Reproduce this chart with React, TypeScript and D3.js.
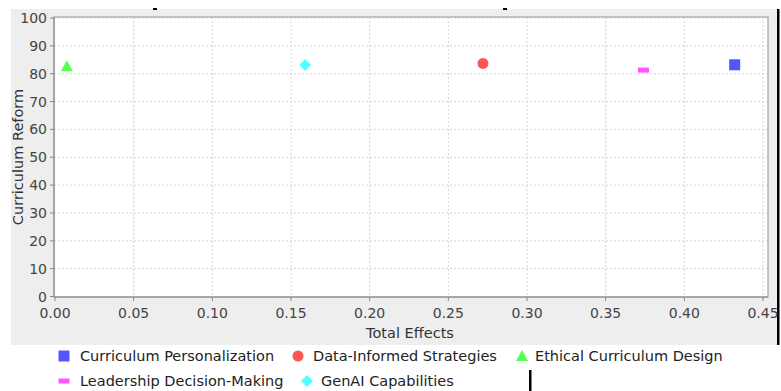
import React from "react";
import * as d3 from "d3";

const seriesNames = [
  "Curriculum Personalization",
  "Data-Informed Strategies",
  "Ethical Curriculum Design",
  "Leadership Decision-Making",
  "GenAI Capabilities",
];
const totalEffects = [0.432, 0.272, 0.0075, 0.374, 0.159];
const curriculumReform = [83.2, 83.7, 82.7, 81.3, 83.1];
const colors = ["#5555ff", "#ff5555", "#55ff55", "#ff55ff", "#55ffff"];
const shapes = ["square", "circle", "triangle", "hrect", "diamond"];
const xTicks = [0, 0.05, 0.1, 0.15, 0.2, 0.25, 0.3, 0.35, 0.4, 0.45];
const yTicks = [0, 10, 20, 30, 40, 50, 60, 70, 80, 90, 100];

const FONT = "'DejaVu Sans', sans-serif";

function Marker({ shape, cx, cy, color }: { shape: string; cx: number; cy: number; color: string }) {
  if (shape === "square") return <rect x={cx - 5.5} y={cy - 5.5} width={11} height={11} fill={color} />;
  if (shape === "circle") return <circle cx={cx} cy={cy} r={5.5} fill={color} />;
  if (shape === "triangle")
    return <path d={`M${cx},${cy - 6}L${cx + 6},${cy + 5}L${cx - 6},${cy + 5}Z`} fill={color} />;
  if (shape === "hrect") return <rect x={cx - 5.5} y={cy - 2.5} width={11} height={5} fill={color} />;
  return <path d={`M${cx},${cy - 6}L${cx + 6},${cy}L${cx},${cy + 6}L${cx - 6},${cy}Z`} fill={color} />;
}

export default function App() {
  const x = d3.scaleLinear().domain([0, 0.45]).range([55, 763]);
  const y = d3.scaleLinear().domain([0, 100]).range([296.5, 18]);
  const plotL = 54, plotR = 768, plotT = 17, plotB = 297;

  const legendRows = [
    [
      { i: 0, mx: 64, tx: 80 },
      { i: 1, mx: 298, tx: 313 },
      { i: 2, mx: 522, tx: 535 },
    ],
    [
      { i: 3, mx: 64, tx: 80 },
      { i: 4, mx: 307, tx: 321 },
    ],
  ];
  const rowY = [356, 381];

  return (
    <div style={{ position: "fixed", left: 0, top: 0 }}>
      <svg width={781} height={391} style={{ display: "block", background: "#fff" }}>
        <rect x={11} y={9} width={766} height={336} fill="#eeeeee" />
        <rect x={777} y={9} width={2.5} height={336} fill="#000" />
        <rect x={153} y={8} width={4} height={2} fill="#000" />
        <rect x={503} y={8} width={4} height={2} fill="#000" />
        <rect x={529} y={370} width={2.5} height={21} fill="#000" />

        <rect x={plotL} y={plotT} width={plotR - plotL} height={plotB - plotT} fill="#fff" />
        {xTicks.slice(1).map((t) => (
          <line key={"gx" + t} x1={x(t)} x2={x(t)} y1={plotT} y2={plotB} stroke="#d4d4d4" strokeDasharray="2,2" />
        ))}
        {yTicks.slice(1).map((t) => (
          <line key={"gy" + t} x1={plotL} x2={plotR} y1={y(t)} y2={y(t)} stroke="#d4d4d4" strokeDasharray="2,2" />
        ))}
        <rect x={plotL} y={plotT} width={plotR - plotL} height={plotB - plotT} fill="none" stroke="#b4b4b4" strokeWidth={1.5} />
        <line x1={plotL} x2={plotL} y1={plotT} y2={plotB} stroke="#888" />
        <line x1={plotL} x2={plotR} y1={plotB} y2={plotB} stroke="#888" />

        {yTicks.map((t) => (
          <g key={"yt" + t}>
            <line x1={plotL - 4} x2={plotL} y1={y(t)} y2={y(t)} stroke="#888" />
            <text x={plotL - 7} y={y(t)} dy="0.36em" textAnchor="end" fontFamily={FONT} fontSize={14} fill="#444">
              {t}
            </text>
          </g>
        ))}
        {xTicks.map((t) => (
          <g key={"xt" + t}>
            <line x1={x(t)} x2={x(t)} y1={plotB} y2={plotB + 4} stroke="#888" />
            <text x={x(t)} y={318} textAnchor="middle" fontFamily={FONT} fontSize={14} fill="#444">
              {d3.format(".2f")(t)}
            </text>
          </g>
        ))}
        <text x={410} y={338} textAnchor="middle" fontFamily={FONT} fontSize={14.5} fill="#333">
          Total Effects
        </text>
        <text
          transform={`translate(23,157) rotate(-90)`}
          textAnchor="middle"
          fontFamily={FONT}
          fontSize={14.5}
          fill="#333"
        >
          Curriculum Reform
        </text>

        {seriesNames.map((n, i) => (
          <Marker key={n} shape={shapes[i]} cx={x(totalEffects[i])} cy={y(curriculumReform[i])} color={colors[i]} />
        ))}

        {legendRows.map((row, r) =>
          row.map((it) => (
            <g key={"lg" + it.i}>
              <Marker shape={shapes[it.i]} cx={it.mx} cy={rowY[r]} color={colors[it.i]} />
              <text x={it.tx} y={rowY[r]} dy="0.36em" fontFamily={FONT} fontSize={14.5} fill="#222">
                {seriesNames[it.i]}
              </text>
            </g>
          ))
        )}
      </svg>
    </div>
  );
}
